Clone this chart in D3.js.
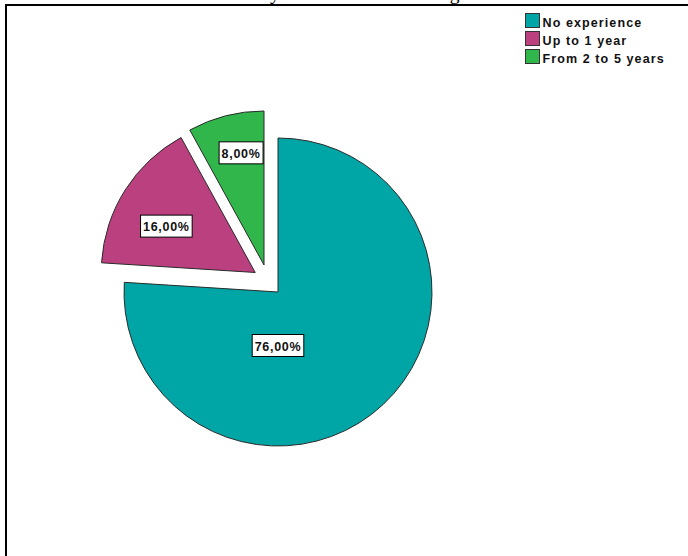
<!DOCTYPE html>
<html>
<head>
<meta charset="utf-8">
<script src="https://cdn.jsdelivr.net/npm/d3@7"></script>
<style>
  html, body { margin: 0; padding: 0; background: #fff; }
  svg { display: block; }
</style>
</head>
<body>
<svg id="chart" width="688" height="556"></svg>
<script>
// ---- data ----
const categories = ["No experience", "Up to 1 year", "From 2 to 5 years"];
const percentages = [76, 16, 8];
const valueLabels = ["76,00%", "16,00%", "8,00%"];
const titleText = "Seniority in the current teaching";

// ---- layout / style ----
const colors = ["#00a6a6", "#bb4080", "#30b64b"];
const center = { x: 278, y: 292 };
const radius = 154;
// explode: distance and direction (degrees clockwise from 12 o'clock)
const explode = [
  { d: 0, ang: 0 },
  { d: 30, ang: 310.6 },
  { d: 30.4, ang: 332.6 }
];
// label placement relative to slice apex (polar)
const labelPlace = [
  { ang: 180, r: 54 },
  { ang: 297.3, r: 100 },
  { ang: 348.4, r: 114 }
];

const svg = d3.select("#chart");
const rad = a => a * Math.PI / 180;
const polar = (angDeg, r) => [Math.sin(rad(angDeg)) * r, -Math.cos(rad(angDeg)) * r];

// title (cut off at the top of the picture)
svg.append("text")
  .attr("x", 334).attr("y", -0.5)
  .attr("text-anchor", "middle")
  .attr("font-family", "'Liberation Serif', 'Times New Roman', serif")
  .attr("font-size", 19.5)
  .attr("fill", "#000")
  .text(titleText);

// frame
svg.append("path")
  .attr("d", "M6,556 V5 H688")
  .attr("fill", "none")
  .attr("stroke", "#000")
  .attr("stroke-width", 2);

const pie = d3.pie().sort(null).value(d => d).startAngle(0).endAngle(2 * Math.PI);
const arcs = pie(percentages);
const arc = d3.arc().innerRadius(0).outerRadius(radius);

const g = svg.append("g").attr("transform", `translate(${center.x},${center.y})`);

const slices = g.selectAll("g.slice")
  .data(arcs)
  .join("g")
  .attr("class", "slice")
  .attr("transform", (d, i) => {
    const [dx, dy] = polar(explode[i].ang, explode[i].d);
    return `translate(${dx},${dy})`;
  });

slices.append("path")
  .attr("d", arc)
  .attr("fill", (d, i) => colors[i])
  .attr("stroke", "#2a2a2a")
  .attr("stroke-width", 1)
  .attr("stroke-linejoin", "miter");

// value labels in boxes
const labelFont = "'Liberation Sans', Arial, sans-serif";
slices.each(function (d, i) {
  const sel = d3.select(this);
  const [lx, ly] = polar(labelPlace[i].ang, labelPlace[i].r);
  const lg = sel.append("g").attr("transform", `translate(${lx},${ly})`);
  const rect = lg.append("rect").attr("fill", "#fff").attr("stroke", "#000").attr("stroke-width", 1);
  const t = lg.append("text")
    .attr("x", 0).attr("y", 4.6)
    .attr("text-anchor", "middle")
    .attr("font-family", labelFont)
    .attr("font-weight", "bold")
    .attr("font-size", 12.5)
    .attr("letter-spacing", 0.7)
    .attr("fill", "#111")
    .text(valueLabels[i]);
  const bb = t.node().getBBox();
  const w = bb.width + 5, h = 22;
  rect.attr("x", -w / 2).attr("y", -h / 2 - 0.5).attr("width", w).attr("height", h);
});

// legend
const legend = svg.append("g").attr("transform", "translate(525,13)");
const rows = legend.selectAll("g")
  .data(categories)
  .join("g")
  .attr("transform", (d, i) => `translate(0,${i * 18})`);
rows.append("rect")
  .attr("x", 0.5).attr("y", 0.5)
  .attr("width", 14).attr("height", 14)
  .attr("fill", (d, i) => colors[i])
  .attr("stroke", "#333")
  .attr("stroke-width", 1);
rows.append("text")
  .attr("x", 17.5).attr("y", 14)
  .attr("font-family", labelFont)
  .attr("font-weight", "bold")
  .attr("font-size", 12.5)
  .attr("letter-spacing", 1.1)
  .attr("fill", "#111")
  .text(d => d);
</script>
</body>
</html>
